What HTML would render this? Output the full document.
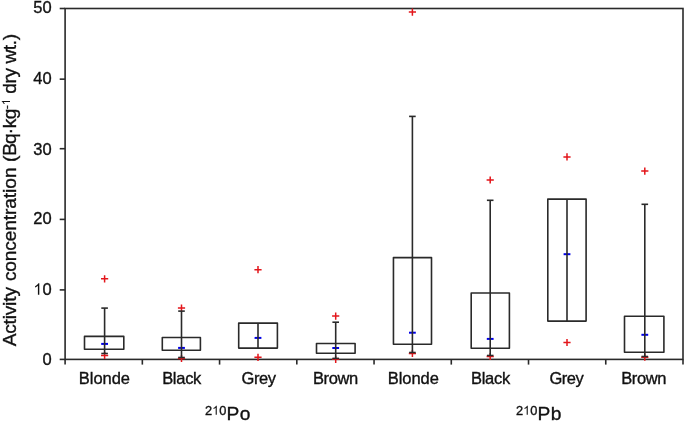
<!DOCTYPE html>
<html><head><meta charset="utf-8"><style>
html,body{margin:0;padding:0;background:#fff;width:685px;height:422px;overflow:hidden}
svg{display:block;will-change:transform}
.t{font-family:"Liberation Sans",sans-serif;font-size:16px;fill:#111;stroke:#111;stroke-width:0.35px}
</style></head><body>
<svg width="685" height="422" viewBox="0 0 685 422">
<rect x="65.1" y="8.5" width="617.90" height="350.90" fill="none" stroke="#2a2a2a" stroke-width="1.6"/>
<line x1="59.70" y1="359.40" x2="65.1" y2="359.40" stroke="#2a2a2a" stroke-width="1.6"/>
<line x1="59.70" y1="289.90" x2="65.1" y2="289.90" stroke="#2a2a2a" stroke-width="1.6"/>
<line x1="59.70" y1="219.40" x2="65.1" y2="219.40" stroke="#2a2a2a" stroke-width="1.6"/>
<line x1="59.70" y1="148.70" x2="65.1" y2="148.70" stroke="#2a2a2a" stroke-width="1.6"/>
<line x1="59.70" y1="79.15" x2="65.1" y2="79.15" stroke="#2a2a2a" stroke-width="1.6"/>
<line x1="59.70" y1="8.50" x2="65.1" y2="8.50" stroke="#2a2a2a" stroke-width="1.6"/>
<line x1="65.10" y1="359.4" x2="65.10" y2="364.59999999999997" stroke="#2a2a2a" stroke-width="1.6"/>
<line x1="142.34" y1="359.4" x2="142.34" y2="364.59999999999997" stroke="#2a2a2a" stroke-width="1.6"/>
<line x1="219.57" y1="359.4" x2="219.57" y2="364.59999999999997" stroke="#2a2a2a" stroke-width="1.6"/>
<line x1="296.81" y1="359.4" x2="296.81" y2="364.59999999999997" stroke="#2a2a2a" stroke-width="1.6"/>
<line x1="374.05" y1="359.4" x2="374.05" y2="364.59999999999997" stroke="#2a2a2a" stroke-width="1.6"/>
<line x1="451.29" y1="359.4" x2="451.29" y2="364.59999999999997" stroke="#2a2a2a" stroke-width="1.6"/>
<line x1="528.52" y1="359.4" x2="528.52" y2="364.59999999999997" stroke="#2a2a2a" stroke-width="1.6"/>
<line x1="605.76" y1="359.4" x2="605.76" y2="364.59999999999997" stroke="#2a2a2a" stroke-width="1.6"/>
<line x1="683.00" y1="359.4" x2="683.00" y2="364.59999999999997" stroke="#2a2a2a" stroke-width="1.6"/>
<path d="M101.00 278.8H108.20M104.6 275.20V282.40" stroke="#e3161b" stroke-width="1.5" fill="none"/>
<path d="M101.00 355.5H108.20M104.6 351.90V359.10" stroke="#e3161b" stroke-width="1.5" fill="none"/>
<path d="M177.90 308.0H185.10M181.5 304.40V311.60" stroke="#e3161b" stroke-width="1.5" fill="none"/>
<path d="M177.90 358.5H185.10M181.5 354.90V362.10" stroke="#e3161b" stroke-width="1.5" fill="none"/>
<path d="M254.40 269.7H261.60M258.0 266.10V273.30" stroke="#e3161b" stroke-width="1.5" fill="none"/>
<path d="M254.40 357.3H261.60M258.0 353.70V360.90" stroke="#e3161b" stroke-width="1.5" fill="none"/>
<path d="M332.10 316.1H339.30M335.7 312.50V319.70" stroke="#e3161b" stroke-width="1.5" fill="none"/>
<path d="M332.10 359.3H339.30M335.7 355.70V362.90" stroke="#e3161b" stroke-width="1.5" fill="none"/>
<path d="M408.80 12.1H416.00M412.4 8.50V15.70" stroke="#e3161b" stroke-width="1.5" fill="none"/>
<path d="M408.80 353.5H416.00M412.4 349.90V357.10" stroke="#e3161b" stroke-width="1.5" fill="none"/>
<path d="M486.60 180.0H493.80M490.2 176.40V183.60" stroke="#e3161b" stroke-width="1.5" fill="none"/>
<path d="M486.60 356.5H493.80M490.2 352.90V360.10" stroke="#e3161b" stroke-width="1.5" fill="none"/>
<path d="M563.40 156.9H570.60M567.0 153.30V160.50" stroke="#e3161b" stroke-width="1.5" fill="none"/>
<path d="M563.40 342.5H570.60M567.0 338.90V346.10" stroke="#e3161b" stroke-width="1.5" fill="none"/>
<path d="M641.20 171.1H648.40M644.8 167.50V174.70" stroke="#e3161b" stroke-width="1.5" fill="none"/>
<path d="M641.20 357.2H648.40M644.8 353.60V360.80" stroke="#e3161b" stroke-width="1.5" fill="none"/>
<line x1="101.20" y1="343.9" x2="108.00" y2="343.9" stroke="#0000e6" stroke-width="2"/>
<line x1="104.6" y1="308.1" x2="104.6" y2="353.5" stroke="#2a2a2a" stroke-width="1.6"/>
<line x1="101.30" y1="308.1" x2="107.90" y2="308.1" stroke="#2a2a2a" stroke-width="1.6"/>
<line x1="101.30" y1="353.5" x2="107.90" y2="353.5" stroke="#2a2a2a" stroke-width="1.6"/>
<rect x="84.5" y="336.4" width="39.30" height="12.90" fill="none" stroke="#2a2a2a" stroke-width="1.6" stroke-linejoin="round"/>
<line x1="178.10" y1="347.9" x2="184.90" y2="347.9" stroke="#0000e6" stroke-width="2"/>
<line x1="181.5" y1="311.1" x2="181.5" y2="357.5" stroke="#2a2a2a" stroke-width="1.6"/>
<line x1="178.20" y1="311.1" x2="184.80" y2="311.1" stroke="#2a2a2a" stroke-width="1.6"/>
<line x1="178.20" y1="357.5" x2="184.80" y2="357.5" stroke="#2a2a2a" stroke-width="1.6"/>
<rect x="162.3" y="337.5" width="38.10" height="12.70" fill="none" stroke="#2a2a2a" stroke-width="1.6" stroke-linejoin="round"/>
<line x1="254.60" y1="337.9" x2="261.40" y2="337.9" stroke="#0000e6" stroke-width="2"/>
<line x1="258.0" y1="323.1" x2="258.0" y2="348.1" stroke="#2a2a2a" stroke-width="1.6"/>
<rect x="238.7" y="323.1" width="38.70" height="25.00" fill="none" stroke="#2a2a2a" stroke-width="1.6" stroke-linejoin="round"/>
<line x1="332.30" y1="348.0" x2="339.10" y2="348.0" stroke="#0000e6" stroke-width="2"/>
<line x1="335.7" y1="322.2" x2="335.7" y2="358.4" stroke="#2a2a2a" stroke-width="1.6"/>
<line x1="332.40" y1="322.2" x2="339.00" y2="322.2" stroke="#2a2a2a" stroke-width="1.6"/>
<line x1="332.40" y1="358.4" x2="339.00" y2="358.4" stroke="#2a2a2a" stroke-width="1.6"/>
<rect x="316.5" y="343.5" width="38.60" height="9.80" fill="none" stroke="#2a2a2a" stroke-width="1.6" stroke-linejoin="round"/>
<line x1="409.00" y1="332.7" x2="415.80" y2="332.7" stroke="#0000e6" stroke-width="2"/>
<line x1="412.4" y1="116.4" x2="412.4" y2="352.5" stroke="#2a2a2a" stroke-width="1.6"/>
<line x1="409.10" y1="116.4" x2="415.70" y2="116.4" stroke="#2a2a2a" stroke-width="1.6"/>
<line x1="409.10" y1="352.5" x2="415.70" y2="352.5" stroke="#2a2a2a" stroke-width="1.6"/>
<rect x="393.45" y="257.6" width="38.05" height="86.70" fill="none" stroke="#2a2a2a" stroke-width="1.6" stroke-linejoin="round"/>
<line x1="486.80" y1="338.9" x2="493.60" y2="338.9" stroke="#0000e6" stroke-width="2"/>
<line x1="490.2" y1="200.3" x2="490.2" y2="355.5" stroke="#2a2a2a" stroke-width="1.6"/>
<line x1="486.90" y1="200.3" x2="493.50" y2="200.3" stroke="#2a2a2a" stroke-width="1.6"/>
<line x1="486.90" y1="355.5" x2="493.50" y2="355.5" stroke="#2a2a2a" stroke-width="1.6"/>
<rect x="471.2" y="293.0" width="38.20" height="55.30" fill="none" stroke="#2a2a2a" stroke-width="1.6" stroke-linejoin="round"/>
<line x1="563.60" y1="254.2" x2="570.40" y2="254.2" stroke="#0000e6" stroke-width="2"/>
<line x1="567.0" y1="199.1" x2="567.0" y2="321.1" stroke="#2a2a2a" stroke-width="1.6"/>
<rect x="547.8" y="199.1" width="38.30" height="122.00" fill="none" stroke="#2a2a2a" stroke-width="1.6" stroke-linejoin="round"/>
<line x1="641.40" y1="334.8" x2="648.20" y2="334.8" stroke="#0000e6" stroke-width="2"/>
<line x1="644.8" y1="204.3" x2="644.8" y2="356.5" stroke="#2a2a2a" stroke-width="1.6"/>
<line x1="641.50" y1="204.3" x2="648.10" y2="204.3" stroke="#2a2a2a" stroke-width="1.6"/>
<line x1="641.50" y1="356.5" x2="648.10" y2="356.5" stroke="#2a2a2a" stroke-width="1.6"/>
<rect x="624.5" y="316.2" width="39.40" height="36.00" fill="none" stroke="#2a2a2a" stroke-width="1.6" stroke-linejoin="round"/>
<text x="51.7" y="365.30" text-anchor="end" class="t" style="font-size:16.5px">0</text>
<text x="51.7" y="294.80" text-anchor="end" class="t" style="font-size:16.5px">0</text>
<path d="M763 0H583V1147Q518 1085 412 1023T222 930V1104Q373 1175 486 1276T646 1472H763Z" transform="translate(33.35,294.80) scale(0.00781,-0.00781)" fill="#111"/>
<text x="51.7" y="224.00" text-anchor="end" class="t" style="font-size:16.5px">20</text>
<text x="51.7" y="154.70" text-anchor="end" class="t" style="font-size:16.5px">30</text>
<text x="51.7" y="84.00" text-anchor="end" class="t" style="font-size:16.5px">40</text>
<text x="51.7" y="13.40" text-anchor="end" class="t" style="font-size:16.5px">50</text>
<text x="104.4" y="384.2" text-anchor="middle" class="t" style="font-size:16.5px" textLength="51.2" lengthAdjust="spacing">Blonde</text>
<text x="181.75" y="384.2" text-anchor="middle" class="t" style="font-size:16.5px" textLength="39.2" lengthAdjust="spacing">Black</text>
<text x="258.75" y="384.2" text-anchor="middle" class="t" style="font-size:16.5px" textLength="34.4" lengthAdjust="spacing">Grey</text>
<text x="335.6" y="384.2" text-anchor="middle" class="t" style="font-size:16.5px" textLength="45.3" lengthAdjust="spacing">Brown</text>
<text x="413.3" y="384.2" text-anchor="middle" class="t" style="font-size:16.5px" textLength="51.2" lengthAdjust="spacing">Blonde</text>
<text x="490.6" y="384.2" text-anchor="middle" class="t" style="font-size:16.5px" textLength="39.2" lengthAdjust="spacing">Black</text>
<text x="566.6" y="384.2" text-anchor="middle" class="t" style="font-size:16.5px" textLength="34.4" lengthAdjust="spacing">Grey</text>
<text x="643.8" y="384.2" text-anchor="middle" class="t" style="font-size:16.5px" textLength="45.3" lengthAdjust="spacing">Brown</text>
<text x="205.0" y="414.7" class="t" style="font-size:12.8px">2</text>
<path d="M763 0H583V1147Q518 1085 412 1023T222 930V1104Q373 1175 486 1276T646 1472H763Z" transform="translate(212.12,414.70) scale(0.00610,-0.00610)" fill="#111"/>
<text x="219.24" y="414.7" class="t" style="font-size:12.8px">0</text>
<text x="226.6" y="419.8" class="t" style="font-size:19.2px;letter-spacing:0.3px">Po</text>
<text x="516.0" y="414.7" class="t" style="font-size:12.8px">2</text>
<path d="M763 0H583V1147Q518 1085 412 1023T222 930V1104Q373 1175 486 1276T646 1472H763Z" transform="translate(523.12,414.70) scale(0.00610,-0.00610)" fill="#111"/>
<text x="530.24" y="414.7" class="t" style="font-size:12.8px">0</text>
<text x="537.6" y="419.8" class="t" style="font-size:19.2px;letter-spacing:0.3px">Pb</text>
<g transform="translate(15.8,346.2) rotate(-90)"><text class="t" style="font-size:19.2px"><tspan x="0.00" y="0">A</tspan><tspan x="12.39" y="0">c</tspan><tspan x="21.69" y="0">t</tspan><tspan x="26.86" y="0">i</tspan><tspan x="30.98" y="0">v</tspan><tspan x="40.28" y="0">i</tspan><tspan x="44.42" y="0">t</tspan><tspan x="49.58" y="0">y</tspan><tspan x="65.15" y="0">c</tspan><tspan x="74.56" y="0">o</tspan><tspan x="85.04" y="0">n</tspan><tspan x="95.50" y="0">c</tspan><tspan x="104.91" y="0">e</tspan><tspan x="115.40" y="0">n</tspan><tspan x="125.87" y="0">t</tspan><tspan x="131.10" y="0">r</tspan><tspan x="137.37" y="0">a</tspan><tspan x="147.84" y="0">t</tspan><tspan x="153.10" y="0">i</tspan><tspan x="157.43" y="0">o</tspan><tspan x="168.25" y="0">n</tspan><tspan x="184.20" y="0">(</tspan><tspan x="190.33" y="0">B</tspan><tspan x="202.18" y="0">q</tspan><tspan x="212.06" y="0">·</tspan><tspan x="217.97" y="0">k</tspan><tspan x="226.87" y="0">g</tspan><tspan x="237.19" y="-5.8" style="font-size:11.5px">-</tspan><tspan x="252.52" y="0">d</tspan><tspan x="262.63" y="0">r</tspan><tspan x="268.66" y="0">y</tspan><tspan x="282.77" y="0">w</tspan><tspan x="295.85" y="0">t</tspan><tspan x="300.89" y="0">.</tspan><tspan x="305.93" y="0">)</tspan></text><path d="M763 0H583V1147Q518 1085 412 1023T222 930V1104Q373 1175 486 1276T646 1472H763Z" transform="translate(241.00,-5.80) scale(0.00562,-0.00562)" fill="#111"/></g>
</svg>
</body></html>
